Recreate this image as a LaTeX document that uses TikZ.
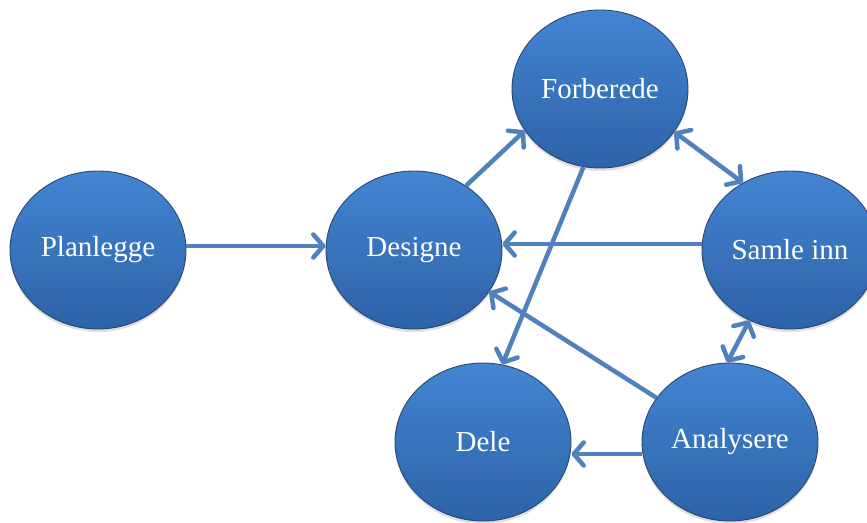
\documentclass[tikz,border=0pt]{standalone}
\usepackage{fontspec}
\setmainfont{Liberation Serif}
\usetikzlibrary{shapes.geometric,arrows.meta,shadows}
\definecolor{balltop}{RGB}{68,133,210}
\definecolor{ballbot}{RGB}{45,98,168}
\definecolor{balledge}{RGB}{40,72,112}
\definecolor{linkblue}{RGB}{79,129,189}
\tikzset{
  stage/.style={ellipse, minimum width=176pt, minimum height=158pt, inner sep=0pt,
    draw=balledge, line width=0.9pt, top color=balltop, bottom color=ballbot,
    text=white, font=\fontsize{29}{34}\selectfont,
    drop shadow={opacity=0.25, shadow xshift=0pt, shadow yshift=-3pt}},
  barb/.tip={Straight Barb[length=10pt,width=23pt,round]},
  link/.style={draw=linkblue, line width=4.5pt, -barb},
  biglink/.style={draw=linkblue, line width=4.5pt, barb-barb}
}
\begin{document}
\begin{tikzpicture}[x=1pt,y=-1pt]
  \useasboundingbox (0,0) rectangle (867,522);
  % process stages
  \node[stage] (p)  at (98,250)  {Planlegge};
  \node[stage] (d)  at (414,250) {Designe};
  \node[stage] (f)  at (600,89)  {Forberede};
  \node[stage] (s)  at (790,250) {Samle inn};
  \node[stage] (dl) at (483,442) {Dele};
  \node[stage] (a)  at (730,442) {Analysere};
  % flow between stages
  \draw[link] ([yshift=4pt]p.east) -- ([yshift=4pt]d.west);
  \draw[link] (d.51) -- (f.209);
  \draw[biglink] (f.-30) -- (s.125);
  \draw[link] (f.258) -- (dl.76);
  \draw[link] ([yshift=6pt]s.west) -- ([yshift=6pt]d.east);
  \draw[link] (a.149) -- (d.-29);
  \draw[biglink] (s.240) -- (a.92);
  \draw[link] ([yshift=-12pt]a.west) -- ([yshift=-12pt]dl.east);
\end{tikzpicture}
\end{document}
